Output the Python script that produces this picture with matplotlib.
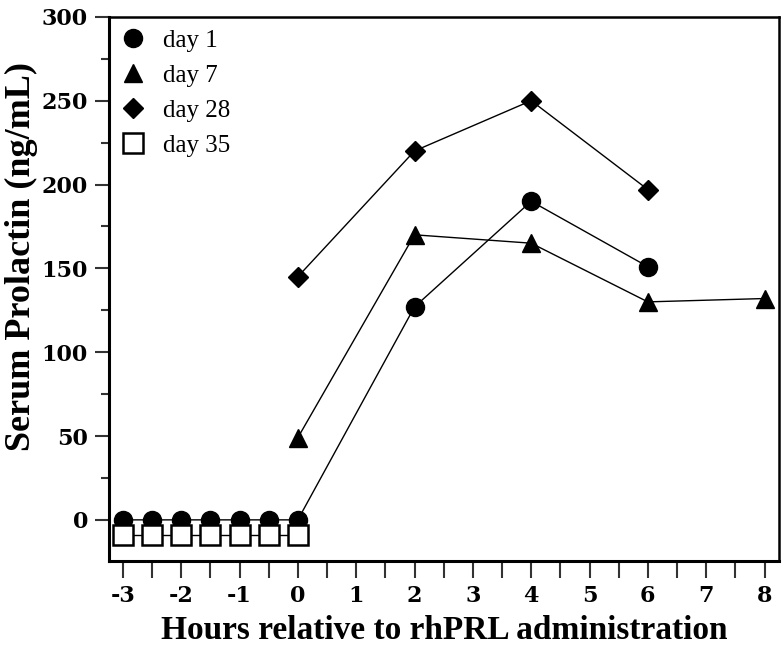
import matplotlib
matplotlib.use("Agg")
import matplotlib.pyplot as plt
import numpy as np

plt.rcParams['font.family'] = ['Liberation Serif', 'DejaVu Serif']
plt.rcParams['axes.unicode_minus'] = False

pre_hours = [-3, -2.5, -2, -1.5, -1, -0.5, 0]
day1_x = pre_hours + [2, 4, 6]
day1_y = [0, 0, 0, 0, 0, 0, 0, 127, 190, 151]
day7_x = [0, 2, 4, 6, 8]
day7_y = [49, 170, 165, 130, 132]
day28_x = [0, 2, 4, 6]
day28_y = [145, 220, 250, 197]
day35_x = pre_hours
day35_y = [-9, -9, -9, -9, -9, -9, -9]

fig = plt.figure(figsize=(7.83, 6.47), dpi=100)
ax = fig.add_axes([0.139, 0.133, 0.856, 0.841])

ax.plot(day1_x, day1_y, '-', color='black', lw=1, marker='o', ms=13, mfc='black', mec='black', label='day 1')
ax.plot(day7_x, day7_y, '-', color='black', lw=1, marker='^', ms=13, mfc='black', mec='black', label='day 7')
ax.plot(day28_x, day28_y, '-', color='black', lw=1, marker='D', ms=10, mfc='black', mec='black', label='day 28')
ax.plot(day35_x, day35_y, '-', color='black', lw=1, marker='s', ms=14, mfc='white', mec='black', mew=1.8, label='day 35')

ax.set_xlim(-3.24, 8.25)
ax.set_ylim(-24.5, 300)
ax.set_xticks(np.arange(-3, 9, 1))
ax.set_xticks(np.arange(-2.5, 8.5, 1), minor=True)
ax.set_yticks(np.arange(0, 301, 50))
ax.set_yticks(np.arange(25, 300, 50), minor=True)
ax.tick_params(axis='both', which='both', direction='out', width=1.5, color='#333333')
ax.tick_params(axis='y', which='major', length=10, labelsize=16, pad=5)
ax.tick_params(axis='y', which='minor', length=6)
ax.tick_params(axis='x', which='both', length=12, labelsize=16, pad=5)
for lab in ax.get_xticklabels() + ax.get_yticklabels():
    lab.set_fontweight('bold')
    lab.set_family(['DejaVu Serif'])

for side in ['left', 'bottom']:
    ax.spines[side].set_linewidth(2.2)
for side in ['top', 'right']:
    ax.spines[side].set_linewidth(1.8)

ax.set_xlabel('Hours relative to rhPRL administration', fontsize=24, fontweight='bold', labelpad=6)
ax.set_ylabel('Serum Prolactin (ng/mL)', fontsize=26, fontweight='bold')
ax.yaxis.set_label_coords(-0.106, 0.559)

leg = ax.legend(loc='upper left', frameon=False, fontsize=18, handlelength=0.9,
                handletextpad=0.75, labelspacing=0.5, borderaxespad=0.15, borderpad=0.35)
for h in leg.legend_handles:
    h.set_linestyle('none')

fig.savefig('out.png', dpi=100)
